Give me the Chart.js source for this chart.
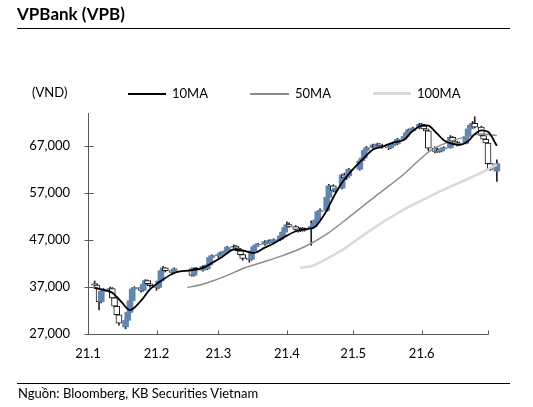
<!DOCTYPE html>
<html><head><meta charset="utf-8">
<script src="https://cdn.jsdelivr.net/npm/chart.js@4.4.0/dist/chart.umd.min.js"></script>
<style>
html,body{margin:0;padding:0;background:#fff;}
#wrap{position:relative;width:533px;height:407px;font-family:Lato,"Noto Sans",sans-serif;color:#000;overflow:hidden;}
#c{position:absolute;left:0;top:0;}
.t{position:absolute;white-space:nowrap;line-height:1;}
.rule{position:absolute;left:17px;width:493px;height:1px;background:#000;}
.lg{position:absolute;height:0;}
</style></head><body>
<div id="wrap">
<canvas id="c" width="533" height="407"></canvas>
<div class="t" style="left:17px;top:5px;font-size:17px;font-weight:bold;">VPBank (VPB)</div>
<div class="rule" style="top:28px;"></div>
<div class="t" style="left:32px;top:86px;font-size:13px;">(VND)</div>
<div class="lg" style="left:128px;top:93px;width:38px;border-top:2px solid #000;"></div>
<div class="t" style="left:172px;top:87px;font-size:13px;">10MA</div>
<div class="lg" style="left:250px;top:93px;width:39px;border-top:2px solid #8c8c8c;"></div>
<div class="t" style="left:295px;top:87px;font-size:13px;">50MA</div>
<div class="lg" style="left:373px;top:92px;width:38px;border-top:3px solid #d9d9d9;"></div>
<div class="t" style="left:417px;top:87px;font-size:13px;">100MA</div>
<div class="rule" style="top:383px;"></div>
<div class="t" style="left:18px;top:387px;font-size:13px;">Nguồn: Bloomberg, KB Securities Vietnam</div>
</div>
<script>
// ---- data (prices in thousand VND; x = days since 2021-01-01) ----
const xTickDays = [0, 31, 59, 90, 120, 151, 181];
const xTickLabels = ['21.1', '21.2', '21.3', '21.4', '21.5', '21.6', ''];
const yTicks = [27, 37, 47, 57, 67];
const yTickLabels = ['27,000', '37,000', '47,000', '57,000', '67,000'];

const days = [3,4,5,6,7,10,11,12,13,14,17,18,19,20,21,24,25,26,27,28,
  31,32,33,34,35,38,39,47,48,49,52,53,54,55,56,
  59,60,61,62,63,66,67,68,69,70,73,74,75,76,77,80,81,82,83,84,87,88,89,
  90,91,94,95,96,97,98,101,102,103,104,105,108,109,111,112,115,116,117,118,
  123,124,125,126,129,130,131,132,133,136,137,138,139,140,143,144,145,146,147,150,
  151,152,153,154,157,158,159,160,161,164,165,166,167,168,171,172,173,174,175,178,179,180,
  181,182,185];
const open = [37.6,37.3,36.5,33.8,36.0,36.3,36.6,34.6,32.8,31.0,28.4,29.8,31.5,34.0,36.5,36.8,36.2,37.5,38.3,37.6,
  37.2,36.8,38.2,40.4,41.0,40.4,40.0,40.8,39.4,40.9,40.5,41.3,40.8,41.6,43.2,
  43.6,43.8,44.2,44.0,44.6,45.4,45.6,45.2,44.6,43.8,43.0,42.8,44.6,45.5,45.9,46.0,46.6,46.4,46.8,46.5,47.0,47.8,48.6,
  49.6,50.2,49.8,49.2,48.9,49.4,49.0,49.3,49.8,50.5,51.2,53.0,53.2,56.0,58.5,57.5,58.0,60.8,60.2,60.6,
  62.0,63.8,64.4,66.0,66.6,67.2,66.8,67.4,67.0,66.8,66.6,67.2,67.6,67.4,68.4,69.0,69.8,70.4,70.2,70.8,
  71.6,71.2,70.6,70.2,66.5,65.8,66.2,65.9,66.4,66.6,68.8,68.0,67.6,67.3,67.5,69.0,70.6,71.4,71.8,71.0,69.2,68.4,
  67.6,63.2,61.6];
const high = [38.2,37.6,36.8,36.3,36.6,36.9,36.8,34.8,33.0,31.2,30.2,31.8,34.2,36.7,37.0,37.0,37.7,38.5,38.4,37.8,
  37.4,38.4,40.6,41.3,41.1,40.6,41.0,41.0,41.0,41.1,41.5,41.4,41.8,43.4,43.8,
  44.0,44.4,44.3,44.8,45.6,45.9,45.8,45.3,44.7,44.0,43.2,44.8,45.7,46.1,46.2,46.8,46.7,47.0,46.9,47.2,48.0,48.8,50.0,
  50.8,50.6,50.0,49.5,49.6,49.6,49.5,51.0,50.7,51.4,53.2,53.6,56.2,58.8,58.7,58.2,61.0,61.2,60.8,62.2,
  64.0,64.6,66.2,66.9,67.4,67.3,67.6,67.5,67.1,67.0,67.4,67.8,67.7,68.6,69.2,70.0,70.6,70.5,71.0,71.8,
  71.8,71.3,70.8,70.4,66.8,66.5,66.3,66.6,66.8,69.2,69.0,68.2,67.8,67.8,69.2,70.8,71.6,72.2,73.2,71.2,69.6,68.8,
  68.0,64.0,64.0];
const low = [37.0,36.2,32.0,33.5,35.8,36.0,34.4,32.5,30.6,28.8,28.0,29.6,31.3,33.8,36.2,35.8,36.0,37.3,37.4,36.9,
  36.2,36.6,38.0,40.2,40.1,39.6,39.8,39.2,39.2,40.3,40.3,40.6,40.6,41.5,43.0,
  43.2,43.5,43.7,43.9,44.4,45.2,45.0,44.4,43.6,42.6,42.2,42.6,44.4,45.3,45.6,45.8,46.1,46.2,46.3,46.3,46.8,47.6,48.4,
  49.4,49.6,49.0,48.6,48.7,48.8,48.8,45.8,49.6,50.3,51.0,52.6,53.0,55.8,57.2,57.0,57.8,60.0,59.8,60.4,
  61.8,63.5,64.2,65.8,66.4,66.5,66.6,66.8,66.5,66.2,66.4,67.0,67.1,67.2,68.2,68.8,69.6,69.9,70.0,70.6,
  71.0,70.4,70.0,66.0,65.5,65.6,65.6,65.7,66.2,66.5,67.8,67.4,67.0,67.1,67.4,68.8,70.4,71.2,70.8,69.0,68.2,67.4,
  63.0,61.8,59.4];
const close = [37.3,36.5,33.8,36.0,36.3,36.6,34.6,32.8,31.0,29.2,29.8,31.5,34.0,36.5,36.8,36.2,37.5,38.3,37.6,37.2,
  36.8,38.2,40.4,41.0,40.4,40.0,40.8,39.4,40.9,40.5,41.3,40.8,41.6,43.2,43.6,
  43.8,44.2,44.0,44.6,45.4,45.6,45.2,44.6,43.8,43.0,42.8,44.6,45.5,45.9,46.0,46.6,46.4,46.8,46.5,47.0,47.8,48.6,49.6,
  50.2,49.8,49.2,48.9,49.4,49.0,49.3,49.8,50.5,51.2,53.0,53.2,56.0,58.5,57.5,58.0,60.8,60.2,60.6,62.0,
  63.8,64.4,66.0,66.6,67.2,66.8,67.4,67.0,66.8,66.6,67.2,67.6,67.4,68.4,69.0,69.8,70.4,70.2,70.8,71.6,
  71.2,70.6,70.2,66.5,65.8,66.2,65.9,66.4,66.6,68.8,68.0,67.6,67.3,67.5,69.0,70.6,71.4,71.8,71.0,69.2,68.4,67.6,
  63.2,62.0,63.2];

const ma10Days = [3,7,11,15,19,24,28,33,39,47,52,56,61,66,70,75,80,84,89,94,98,103,105,108,111,115,118,124,129,133,138,143,147,152,154,158,161,166,168,172,175,178,181,185];
const ma10 = [36.8,36.3,35.7,33.8,32.0,34.0,36.4,38.2,39.9,40.5,41.0,42.0,43.4,44.9,44.7,44.2,45.3,46.2,47.6,48.8,49.2,49.8,51.0,53.2,56.0,59.2,61.0,64.0,66.2,66.8,67.7,68.3,70.2,71.4,71.3,69.6,68.2,67.3,67.2,68.0,69.5,70.3,70.0,67.0];
const ma50Days = [45,51,57,63,71,79,88,98,108,120,131,143,149,155,163,170,178,185];
const ma50 = [36.8,37.4,38.3,39.4,41.0,42.2,43.6,45.5,48.2,52.5,56.6,61.0,63.6,66.0,67.8,68.8,69.5,69.2];
const ma100Days = [96,102,106,115,123,133,141,149,158,164,173,181,185];
const ma100 = [41.0,41.5,42.4,44.8,47.4,50.6,52.9,54.9,57.0,58.3,60.2,62.0,63.0];

// ---- chart ----
const UP = '#6485b0';
const isUp = i => close[i] >= open[i];
const font = {family: 'Lato, "Noto Sans", sans-serif', size: 13};

const axesPlugin = {
  id: 'axesPlugin',
  beforeDatasetsDraw(chart) {
    const {ctx, scales: {x, y}, chartArea} = chart;
    const x0 = Math.round(x.getPixelForValue(xTickDays[0])) + 0.5;
    const x1 = x.getPixelForValue(xTickDays[xTickDays.length - 1]);
    const yb = Math.round(y.getPixelForValue(yTicks[0])) + 0.5;
    ctx.save();
    ctx.strokeStyle = '#595959';
    ctx.lineWidth = 1;
    ctx.beginPath();
    ctx.moveTo(x0, chartArea.top); ctx.lineTo(x0, yb);
    ctx.moveTo(x0 - 0.5, yb); ctx.lineTo(x1 + 0.5, yb);
    yTicks.forEach(v => {
      const p = Math.round(y.getPixelForValue(v)) + 0.5;
      ctx.moveTo(x0 - 4, p); ctx.lineTo(x0 + 5, p);
    });
    xTickDays.forEach(v => {
      const p = Math.round(x.getPixelForValue(v)) + 0.5;
      ctx.moveTo(p, yb); ctx.lineTo(p, yb - 4);
    });
    ctx.stroke();
    ctx.restore();
  }
};

new Chart(document.getElementById('c'), {
  type: 'bar',
  data: {
    datasets: [
      {type: 'line', label: '10MA', data: ma10Days.map((d, i) => ({x: d, y: ma10[i]})),
        borderColor: '#000', borderWidth: 1.8, pointRadius: 0, cubicInterpolationMode: 'monotone', order: 0, clip: false},
      {type: 'line', label: '50MA', data: ma50Days.map((d, i) => ({x: d, y: ma50[i]})),
        borderColor: '#8c8c8c', borderWidth: 1.5, pointRadius: 0, cubicInterpolationMode: 'monotone', order: 1, clip: false},
      {type: 'line', label: '100MA', data: ma100Days.map((d, i) => ({x: d, y: ma100[i]})),
        borderColor: '#d9d9d9', borderWidth: 2.5, pointRadius: 0, cubicInterpolationMode: 'monotone', order: 2, clip: false},
      {type: 'bar', label: 'body', data: days.map((d, i) => ({x: d, y: [open[i], close[i]]})),
        barThickness: 6, grouped: false, borderSkipped: false,
        backgroundColor: c => isUp(c.dataIndex) ? UP : '#fff',
        borderColor: c => isUp(c.dataIndex) ? UP : '#1a1a1a',
        borderWidth: c => isUp(c.dataIndex) ? 0 : 1,
        order: 3, clip: false},
      {type: 'bar', label: 'wick', data: days.map((d, i) => ({x: d, y: [low[i], high[i]]})),
        barThickness: 1, grouped: false, borderSkipped: false, backgroundColor: '#222', borderWidth: 0,
        order: 4, clip: false}
    ]
  },
  options: {
    responsive: false, animation: false, devicePixelRatio: 1,
    layout: {padding: {left: 0, top: 113, right: 533 - (88 + 185 * 400 / 181), bottom: 43.5}},
    plugins: {legend: {display: false}, tooltip: {enabled: false}},
    scales: {
      x: {type: 'linear', min: 0, max: 185, offset: false,
        border: {display: false}, grid: {display: false, drawTicks: false, offset: false},
        ticks: {autoSkip: false, maxRotation: 0, padding: 13, color: '#000', font,
          callback: (v, i) => xTickLabels[i]},
        afterBuildTicks: s => { s.ticks = xTickDays.map(v => ({value: v})); },
        afterFit: s => { s.height = 30; }},
      y: {type: 'linear', min: 27, max: 74, beginAtZero: false,
        border: {display: false}, grid: {display: false, drawTicks: false},
        ticks: {padding: 18, color: '#000', font, callback: (v, i) => yTickLabels[i]},
        afterBuildTicks: s => { s.ticks = yTicks.map(v => ({value: v})); },
        afterFit: s => { s.width = 88; }}
    }
  },
  plugins: [axesPlugin]
});
</script>
</body></html>
